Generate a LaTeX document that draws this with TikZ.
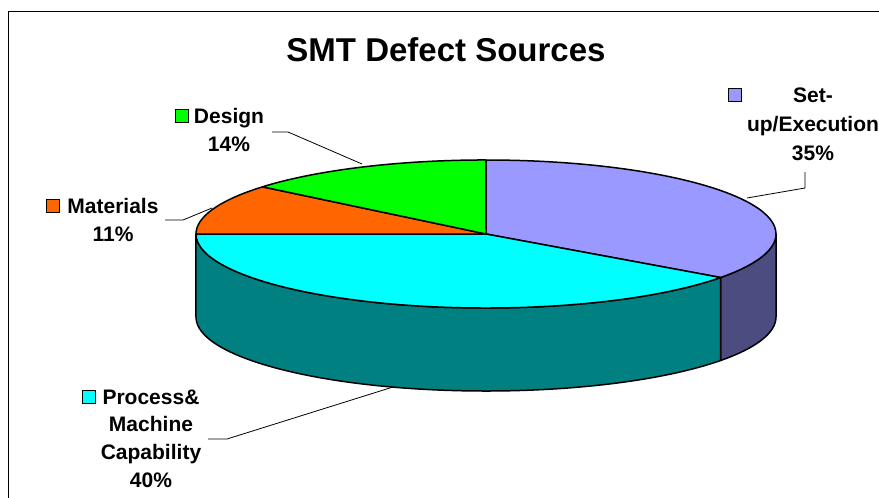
\documentclass[tikz,border=0pt]{standalone}
\usepackage{fontspec}
\setmainfont{Liberation Sans}
\begin{document}
\begin{tikzpicture}[x=1pt,y=1pt,
  wedge/.style={draw=black,line width=1.5pt,line join=round},
  leader/.style={draw=black,line width=0.8pt},
  lbl/.style={align=center,inner sep=0pt,font=\fontsize{21}{28}\selectfont\bfseries},
  keybox/.style={draw=black,line width=1.3pt,minimum width=12.5pt,minimum height=12.5pt,inner sep=0pt}
]
\definecolor{setupTop}{HTML}{9999FF}
\definecolor{setupSide}{HTML}{4C4C80}
\definecolor{procTop}{HTML}{00FFFF}
\definecolor{procSide}{HTML}{008080}
\definecolor{matTop}{HTML}{FF6600}
\definecolor{desTop}{HTML}{00FF00}
\useasboundingbox (0,0) rectangle (879,-498);
\clip (0,0) rectangle (879,-498);
% frame
\draw[line width=1pt] (8,-520) rectangle (900,-11);
% title
\node[font=\fontsize{33}{40}\selectfont\bfseries] (title) at (446,-50) {SMT Defect Sources};
% pie geometry
\coordinate (C) at (486,-234);
\def\rx{290}\def\ry{74}\def\dep{83}
% side walls
\draw[wedge,fill=setupSide] (776,-234) arc[start angle=0,end angle=-36,x radius=\rx,y radius=\ry]
  -- ++(0,-\dep) arc[start angle=-36,end angle=0,x radius=\rx,y radius=\ry] -- cycle;
\draw[wedge,fill=procSide] (720.6,-277.5) arc[start angle=-36,end angle=-180,x radius=\rx,y radius=\ry]
  -- ++(0,-\dep) arc[start angle=-180,end angle=-36,x radius=\rx,y radius=\ry] -- cycle;
% top sectors
\draw[wedge,fill=setupTop] (C) -- (486,-160) arc[start angle=90,end angle=-36,x radius=\rx,y radius=\ry] -- cycle;
\draw[wedge,fill=procTop] (C) -- (720.6,-277.5) arc[start angle=-36,end angle=-180,x radius=\rx,y radius=\ry] -- cycle;
\draw[wedge,fill=matTop] (C) -- (196,-234) arc[start angle=180,end angle=140.4,x radius=\rx,y radius=\ry] -- cycle;
\draw[wedge,fill=desTop] (C) -- (262.5,-186.8) arc[start angle=140.4,end angle=90,x radius=\rx,y radius=\ry] -- cycle;
% labels
\node[lbl] (ldes) at (229,-130) {Design\\14\%};
\node[keybox,fill=desTop] (kdes) at (182,-116) {};
\node[lbl] (lmat) at (113,-220) {Materials\\11\%};
\node[keybox,fill=matTop] (kmat) at (53,-206) {};
\node[lbl,font=\fontsize{21}{29}\selectfont\bfseries] (lset) at (813,-124) {Set-\\up/Execution\\35\%};
\node[keybox,fill=setupTop] (kset) at (735,-95) {};
\node[lbl,font=\fontsize{21}{27.7}\selectfont\bfseries] (lproc) at (151,-438.5) {Process\&\\Machine\\Capability\\40\%};
\node[keybox,fill=procTop] (kproc) at (89,-397) {};
% leaders
\coordinate (d1) at (272,-132); \coordinate (d2) at (288,-132); \coordinate (d3) at (362,-164);
\coordinate (s1) at (805,-172); \coordinate (s2) at (805,-188); \coordinate (s3) at (747,-198);
\coordinate (m1) at (165,-220); \coordinate (m2) at (183,-220); \coordinate (m3) at (212,-208);
\coordinate (p1) at (208,-439); \coordinate (p2) at (227,-439); \coordinate (p3) at (393,-387);
\draw[leader] (d1) -- (d2) -- (d3);
\draw[leader] (s1) -- (s2) -- (s3);
\draw[leader] (m1) -- (m2) -- (m3);
\draw[leader] (p1) -- (p2) -- (p3);
\end{tikzpicture}
\end{document}
